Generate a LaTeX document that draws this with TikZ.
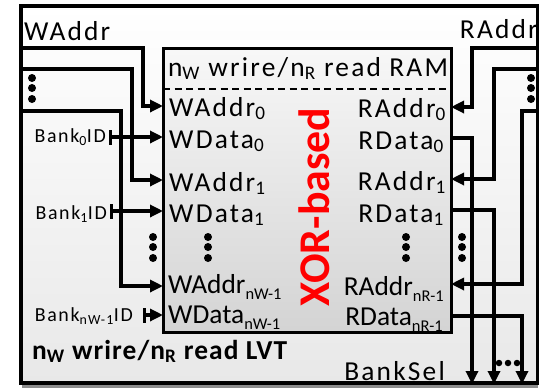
\documentclass[tikz,border=0pt]{standalone}
\usepackage{fontspec}
\setmainfont{Carlito}[LetterSpace=8]
\newfontfamily\xorfont{Carlito}
\newfontfamily\tightfont{Carlito}
\newfontfamily\lvtfont{Carlito}[LetterSpace=4]
\newcommand\lsub[1]{\raisebox{-0.22em}{\fontsize{16.5}{17}\selectfont #1}}
\usetikzlibrary{arrows.meta}
\tikzset{
  wire/.style={line width=3.2bp},
  arr/.style={-{Triangle[length=13bp,width=12bp]}},
  barr/.style={{Bar[width=15bp]}-{Triangle[length=13bp,width=12bp]}},
  lbl/.style={inner sep=0pt, font=\fontsize{27.5}{30}\selectfont},
  tlbl/.style={inner sep=0pt, font=\tightfont\fontsize{27.5}{30}\selectfont},
  smalllbl/.style={inner sep=0pt, font=\fontsize{20}{24}\selectfont},
  dot/.style={circle, fill=black, inner sep=0pt, minimum size=8bp},
  sdot/.style={circle, fill=black, inner sep=0pt, minimum size=6.5bp},
}
\begin{document}
\begin{tikzpicture}[x=1bp,y=-1bp]
\useasboundingbox (0,0) rectangle (539,388);
% shadow under outer box
\fill[black!45] (22,384) rectangle (538,388);
% outer LVT box
\node[draw, line width=3.5bp, top color=white, bottom color=black!9,
      minimum width=517bp, minimum height=377bp, inner sep=0pt, outer sep=0pt] (lvt) at (279.5,194.5) {};
% inner RAM box
\node[draw, line width=3bp, top color=black!3, bottom color=black!17,
      minimum width=288bp, minimum height=284bp, inner sep=0pt, outer sep=0pt] (ram) at (307,190) {};
\coordinate (dashl) at (163,89);
\coordinate (dashr) at (451,89);
\draw[line width=2.4bp, dash pattern=on 7bp off 4.5bp] (dashl) -- (dashr);

% texts
\node[lbl, anchor=base] (ttl) at (308,76) {n\textsubscript{W} wrire/n\textsubscript{R} read RAM};
\node[lbl, anchor=base west] (waddr) at (24,40) {WAddr};
\node[lbl, anchor=base east] (raddr) at (538,38) {RAddr};

\node[lbl, anchor=base west] (wa0) at (169,116) {WAddr\textsubscript{0}};
\node[lbl, anchor=base west] (wd0) at (169,148) {WData\textsubscript{0}};
\node[lbl, anchor=base west] (wa1) at (169,191) {WAddr\textsubscript{1}};
\node[lbl, anchor=base west] (wd1) at (169,222) {WData\textsubscript{1}};
\node[tlbl, anchor=base west] (wan) at (168,293) {WAddr\lsub{nW-1}};
\node[tlbl, anchor=base west] (wdn) at (168,323) {WData\lsub{nW-1}};

\node[lbl, anchor=base east] (ra0) at (446,117) {RAddr\textsubscript{0}};
\node[lbl, anchor=base east] (rd0) at (444,149) {RData\textsubscript{0}};
\node[lbl, anchor=base east] (ra1) at (446,190) {RAddr\textsubscript{1}};
\node[lbl, anchor=base east] (rd1) at (444,222) {RData\textsubscript{1}};
\node[tlbl, anchor=base east] (ran) at (444,295) {RAddr\lsub{nR-1}};
\node[tlbl, anchor=base east] (rdn) at (443,325) {RData\lsub{nR-1}};

\node[smalllbl, anchor=base east] (b0) at (106,142) {Bank\textsubscript{0}ID};
\node[smalllbl, anchor=base east] (b1) at (107,219) {Bank\textsubscript{1}ID};
\node[smalllbl, anchor=base east] (bn) at (133,321) {Bank\textsubscript{nW-1}ID};

\node[lbl, anchor=base east] (bsel) at (445,380) {BankSel};
\node[inner sep=0pt, anchor=base west, font=\lvtfont\fontsize{27.5}{30}\selectfont\bfseries] (lvtt) at (32,359) {n\textsubscript{W} wrire/n\textsubscript{R} read LVT};
\node[inner sep=0pt, rotate=90, anchor=base, text=red, font=\xorfont\fontsize{44}{48}\selectfont\bfseries] (xor) at (329,207) {XOR-based};

% ports
\coordinate (lin1) at (21,48);
\coordinate (lin2) at (21,69);
\coordinate (lin3) at (21,111);
\coordinate (pwa0) at (163,106);
\coordinate (pwd0) at (163,137);
\coordinate (pwa1) at (163,180);
\coordinate (pwd1) at (163,211);
\coordinate (pwan) at (163,286);
\coordinate (pwdn) at (163,315);
\coordinate (bb0) at (109,137);
\coordinate (bb1) at (110,211);
\coordinate (bbn) at (143,315);

\coordinate (rin1) at (538,48);
\coordinate (rin2) at (538,69);
\coordinate (rin3) at (538,111);
\coordinate (pra0) at (451,107);
\coordinate (prd0) at (451,138);
\coordinate (pra1) at (451,179);
\coordinate (prd1) at (451,210);
\coordinate (pran) at (451,284);
\coordinate (prdn) at (451,316);
\coordinate (out0) at (472,384);
\coordinate (out1) at (494,384);
\coordinate (outn) at (522,384);

% left wires
\draw[wire, arr] (lin1) -| ([xshift=-20bp]pwa0) -- (pwa0);
\draw[wire, arr] (lin2) -| ([xshift=-31bp]pwa1) -- (pwa1);
\draw[wire, arr] (lin3) -| ([xshift=-42bp]pwan) -- (pwan);
\draw[wire, barr] (bb0) -- (pwd0);
\draw[wire, barr] (bb1) -- (pwd1);
\draw[wire, barr] (bbn) -- (pwdn);

% right wires
\draw[wire, arr] (rin1) -| ([xshift=21bp]pra0) -- (pra0);
\draw[wire, arr] (rin2) -| ([xshift=43bp]pra1) -- (pra1);
\draw[wire, arr] (rin3) -| ([xshift=71bp]pran) -- (pran);
\draw[wire, arr] (prd0) -| (out0);
\draw[wire, arr] (prd1) -| (out1);
\draw[wire, arr] (prdn) -| (outn);

% dots
\foreach \n/\x/\y in {a1/32/78, a2/32/88, a3/32/99,
                      c1/531/78, c2/531/88, c3/531/99,
                      e1/153/237, e2/153/247, e3/153/258,
                      f1/208/237, f2/208/247, f3/208/258,
                      g1/406/237, g2/406/247, g3/406/258,
                      h1/462/237, h2/462/247, h3/462/258}
  \node[dot] (dot\n) at (\x,\y) {};
\foreach \n/\x in {1/499, 2/508, 3/517}
  \node[sdot] (bdot\n) at (\x,363) {};
\end{tikzpicture}
\end{document}
